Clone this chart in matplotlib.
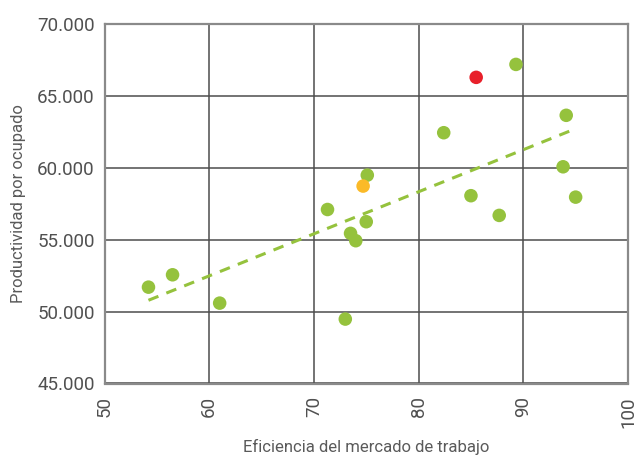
import numpy as np
import matplotlib
matplotlib.use('Agg')
import matplotlib.pyplot as plt
from matplotlib.ticker import FuncFormatter

plt.rcParams['font.family'] = ['Roboto', 'DejaVu Sans']

# Eficiencia del mercado de trabajo vs productividad por ocupado
eficiencia = [54.2, 56.5, 61.0, 73.0, 71.3, 73.5, 74.0, 75.0, 75.1,
              82.4, 89.3, 85.0, 87.7, 94.1, 93.8, 95.0]
productividad = [51700, 52560, 50590, 49480, 57100, 55440, 54930, 56250, 59490,
                 62440, 67190, 58060, 56690, 63650, 60070, 57960]

# highlighted points
naranja_x, naranja_y = [74.7], [58730]
rojo_x, rojo_y = [85.5], [66290]

verde = '#95c23d'
texto = '#505050'

fig = plt.figure(figsize=(6.38, 4.57), dpi=100)
ax = fig.add_axes([104.5 / 638, 1 - 383.5 / 457, 523.5 / 638, 359.5 / 457])

# trend line over all points
all_x = np.array(eficiencia + naranja_x + rojo_x)
all_y = np.array(productividad + naranja_y + rojo_y)
m, b = np.polyfit(all_x, all_y, 1)
tx = np.array([all_x.min(), 94.5])
ax.plot(tx, m * tx + b, color=verde, lw=2.2, ls=(0, (3.5, 2.8)), zorder=3)

ax.scatter(eficiencia, productividad, s=95, color=verde, edgecolor='none', zorder=4)
ax.scatter(naranja_x, naranja_y, s=95, color='#fbba28', edgecolor='none', zorder=4)
ax.scatter(rojo_x, rojo_y, s=95, color='#e8202a', edgecolor='none', zorder=4)

ax.set_xlim(50, 100)
ax.set_ylim(45000, 70000)
ax.set_xticks(range(50, 101, 10))
ax.set_yticks(range(45000, 70001, 5000))
ax.yaxis.set_major_formatter(FuncFormatter(lambda v, p: f'{int(v):,}'.replace(',', '.')))
ax.grid(True, color='#4d4d4d', lw=1.1)
ax.set_axisbelow(True)
for s in ax.spines.values():
    s.set_color('#8a8a8a')
    s.set_linewidth(1.6)

ax.tick_params(length=0, labelsize=13.5, colors=texto, pad=7)
ax.tick_params(axis='x', labelrotation=90, pad=9)

ax.set_xlabel('Eficiencia del mercado de trabajo', fontsize=12, color='#5a5a5a', labelpad=8)
ax.set_ylabel('Productividad por ocupado', fontsize=12, color='#5a5a5a', labelpad=8)

fig.savefig('out.png', dpi=100)
